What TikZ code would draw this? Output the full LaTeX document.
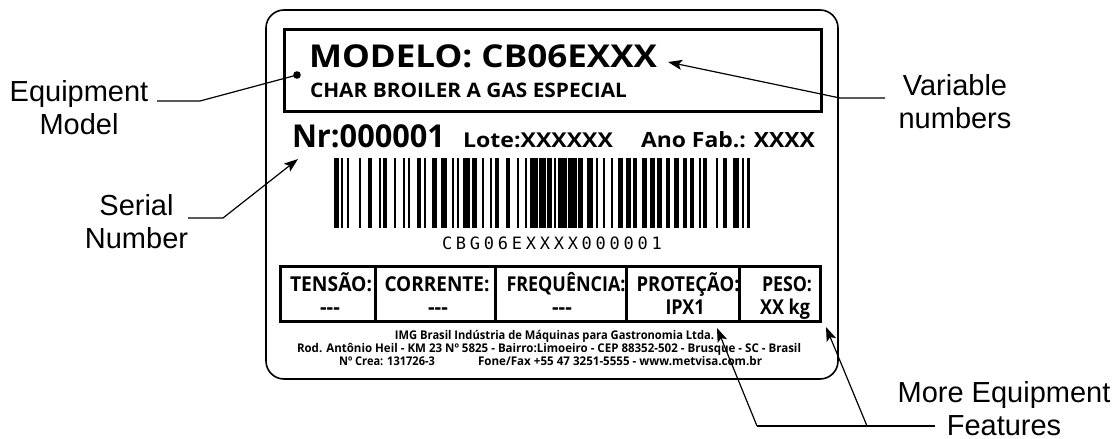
\documentclass[tikz,border=0pt]{standalone}
\usepackage{fontspec}
\usepackage{graphicx}
\setmainfont{Liberation Sans}
\newfontfamily\labf{Open Sans}
\newfontfamily\bcf[LetterSpace=22]{DejaVu Sans Mono}
\usetikzlibrary{arrows.meta}
\newcommand\fitw[3]{\resizebox{#1pt}{\height}{\fontsize{#2pt}{#2pt}\labf\bfseries #3}}
\newcommand\lf[1]{\fontsize{#1pt}{#1pt}\labf\bfseries}
\tikzset{
  lbl/.style={inner sep=0pt, outer sep=0pt, anchor=base west},
  lblc/.style={inner sep=0pt, outer sep=0pt, anchor=base},
  callout/.style={font=\fontsize{29pt}{33pt}\selectfont, inner sep=0pt, outer sep=0pt, align=center, anchor=base},
  conn/.style={line width=1.2pt},
  arr/.style={conn, -{Stealth[length=14pt,width=10pt,inset=3pt]}},
  frame/.style={line width=1.6pt, rounded corners=18pt},
  thickbox/.style={line width=3pt},
}
\begin{document}
\begin{tikzpicture}[x=1pt,y=-1pt]
\useasboundingbox[fill=white] (0,0) rectangle (1119,439);
% label plate
\draw[frame] (266,10) rectangle (838,379);
\draw[thickbox] (284.5,29.5) rectangle (821,111);
\node[lbl] (modelo) at (309,67) {\fitw{348}{31.5}{MODELO: CB06EXXX}};
\node[lbl] (char) at (310,97) {\fitw{317}{20}{CHAR BROILER A GAS ESPECIAL}};
\node[lbl] (nr) at (292,147) {\fitw{153}{31.5}{Nr:000001}};
\node[lbl] (lote) at (463,147) {\fitw{150}{20.5}{Lote:XXXXXX}};
\node[lbl] (ano) at (641,147) {\fitw{174}{21}{Ano Fab.: XXXX}};
% barcode
\foreach \a/\b in {334/339, 341/343, 347/349, 359/361, 368/372, 379/381, 383/387, 394/396, 403/405, 408/410, 417/421, 424/426, 432/437, 441/447, 452/454, 457/459, 463/470, 472/477, 482/484, 490/492, 495/499, 506/510, 517/519, 525/527, 530/538, 539/546, 547/552, 554/556, 558/567, 568/577, 578/583, 587/593, 596/598, 603/605, 611/613, 618/623, 626/631, 633/637, 642/647, 650/655, 657/662, 666/670, 674/679, 683/687, 690/694, 699/701, 703/707, 716/718, 723/727, 733/739, 742/744, 747/750}
  \fill (\a,158) rectangle (\b,228);
\node[lbl] (bctext) at (442,249) {\fontsize{17pt}{17pt}\bcf CBG06EXXXX000001};
% table
\draw[thickbox] (280.5,266.5) rectangle (820.5,321.5);
\foreach \x in {375,495,626,739} \draw[thickbox] (\x,266.5) -- (\x,321.5);
\node[lblc] (h1) at (331,291) {\fitw{82}{20.5}{TENSÃO:}};
\node[lblc] (h2) at (437,291) {\fitw{105}{20.5}{CORRENTE:}};
\node[lblc] (h3) at (566,291) {\fitw{119}{20.5}{FREQUÊNCIA:}};
\node[lblc] (h4) at (688,291) {\fitw{103}{20.5}{PROTEÇÃO:}};
\node[lblc] (h5) at (787,291) {\fitw{50}{20.5}{PESO:}};
\node[lblc] (v1) at (330,314) {\lf{20.5}---};
\node[lblc] (v2) at (438,314) {\lf{20.5}---};
\node[lblc] (v3) at (562,314) {\lf{20.5}---};
\node[lblc] (v4) at (685,314) {\fitw{39}{20.5}{IPX1}};
\node[lblc] (v5) at (785,314) {\fitw{50}{20.5}{XX kg}};
% footer
\node[lblc] (f1) at (554.5,339) {\fitw{319}{12}{IMG Brasil Indústria de Máquinas para Gastronomia Ltda.}};
\node[lblc] (f2) at (549,352) {\fitw{504}{12}{Rod. Antônio Heil - KM 23 Nº 5825 - Bairro:Limoeiro - CEP 88352-502 - Brusque - SC - Brasil}};
\node[lbl] (f3a) at (339,365) {\fitw{96}{12}{Nº Crea: 131726-3}};
\node[inner sep=0pt, outer sep=0pt, anchor=base east] (f3b) at (762,365) {\fitw{284}{12}{Fone/Fax +55 47 3251-5555 - www.metvisa.com.br}};
% callouts (base anchor = last line)
\node[callout] (eqm) at (79,134) {Equipment\\Model};
\node[callout] (sn) at (136.5,248) {Serial\\Number};
\node[callout] (vn) at (955,128) {Variable\\numbers};
\node[callout] (mef) at (1004,435) {More Equipment\\Features};
% connectors
\coordinate (eqa) at (157,101);
\coordinate (eqb) at (200,101);
\coordinate (eqdot) at (297,75);
\fill (eqdot) circle (3.8pt);
\draw[conn] (eqa) -- (eqb) -- (eqdot);
\coordinate (sna) at (188,218);
\coordinate (snb) at (223,218);
\coordinate (sntip) at (298,159);
\draw[arr] (sna) -- (snb) -- (sntip);
\coordinate (vna) at (885,98);
\coordinate (vnb) at (840,98);
\coordinate (vntip) at (668,62);
\draw[arr] (vna) -- (vnb) -- (vntip);
\coordinate (mea) at (935,426);
\coordinate (meb) at (867,426);
\coordinate (mec) at (757,426);
\coordinate (metip1) at (717,328);
\coordinate (metip2) at (826,327);
\draw[conn] (mea) -- (mec);
\draw[arr] (mec) -- (metip1);
\draw[arr] (meb) -- (metip2);
\end{tikzpicture}
\end{document}
